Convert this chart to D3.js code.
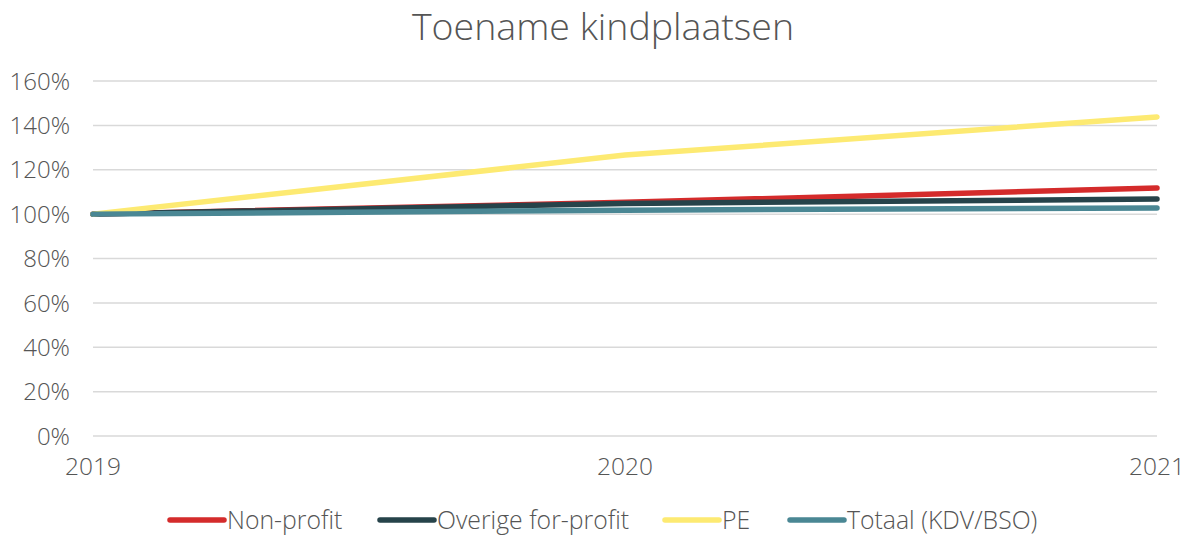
<!DOCTYPE html>
<html>
<head>
<meta charset="utf-8">
<script src="https://cdn.jsdelivr.net/npm/d3@7"></script>
<style>
  body { margin: 0; background: #fff; }
  text { font-family: "Open Sans", "Noto Sans", sans-serif; font-weight: 300; fill: #555; }
</style>
</head>
<body>
<div id="chart"></div>
<script>
const years = ['2019', '2020', '2021'];
const yTicks = [0, 20, 40, 60, 80, 100, 120, 140, 160];
const nonProfit = [100, 105.3, 111.8];
const overigeForProfit = [100, 104.8, 106.8];
const pe = [100, 126.6, 143.8];
const totaal = [100, 101.8, 102.8];

const series = [
  {name: 'Non-profit', values: nonProfit, color: '#D42B2B'},
  {name: 'Overige for-profit', values: overigeForProfit, color: '#26434A'},
  {name: 'PE', values: pe, color: '#FDEA72'},
  {name: 'Totaal (KDV/BSO)', values: totaal, color: '#4A8794'}
];

const width = 1184, height = 536;
const margin = {left: 93, right: 27, top: 81, bottom: 100};

const svg = d3.select('#chart').append('svg')
  .attr('width', width).attr('height', height);

svg.append('text')
  .attr('x', width / 2 + 11).attr('y', 40)
  .attr('text-anchor', 'middle')
  .attr('font-size', '37.5px')
  .text('Toename kindplaatsen');

const x = d3.scalePoint().domain(years).range([margin.left, width - margin.right]);
const y = d3.scaleLinear().domain([0, 160]).range([height - margin.bottom, margin.top]);

// grid lines
svg.append('g').selectAll('line')
  .data(yTicks)
  .enter().append('line')
  .attr('x1', margin.left).attr('x2', width - margin.right)
  .attr('y1', d => y(d)).attr('y2', d => y(d))
  .attr('stroke', '#d9d9d9').attr('stroke-width', 1.5);

// y labels
svg.append('g').selectAll('text')
  .data(yTicks)
  .enter().append('text')
  .attr('x', 70).attr('y', d => y(d))
  .attr('dy', '0.36em')
  .attr('text-anchor', 'end')
  .attr('font-size', '24px')
  .text(d => d + '%');

// x labels
svg.append('g').selectAll('text')
  .data(years)
  .enter().append('text')
  .attr('x', d => x(d)).attr('y', 475)
  .attr('text-anchor', 'middle')
  .attr('font-size', '24.5px')
  .text(d => d);

const line = d3.line()
  .x((d, i) => x(years[i]))
  .y(d => y(d));

svg.append('g').selectAll('path')
  .data(series)
  .enter().append('path')
  .attr('d', d => line(d.values))
  .attr('fill', 'none')
  .attr('stroke', d => d.color)
  .attr('stroke-width', 5.5)
  .attr('stroke-linecap', 'round');

// legend
const legendX = [170, 380, 665, 790];
const legend = svg.append('g').selectAll('g')
  .data(series)
  .enter().append('g')
  .attr('transform', (d, i) => 'translate(' + legendX[i] + ',520)');

legend.append('line')
  .attr('x1', 0).attr('x2', 54)
  .attr('stroke', d => d.color)
  .attr('stroke-width', 5.5)
  .attr('stroke-linecap', 'round');

legend.append('text')
  .attr('x', 57).attr('dy', '0.36em')
  .attr('font-size', '24.8px')
  .text(d => d.name);
</script>
</body>
</html>
